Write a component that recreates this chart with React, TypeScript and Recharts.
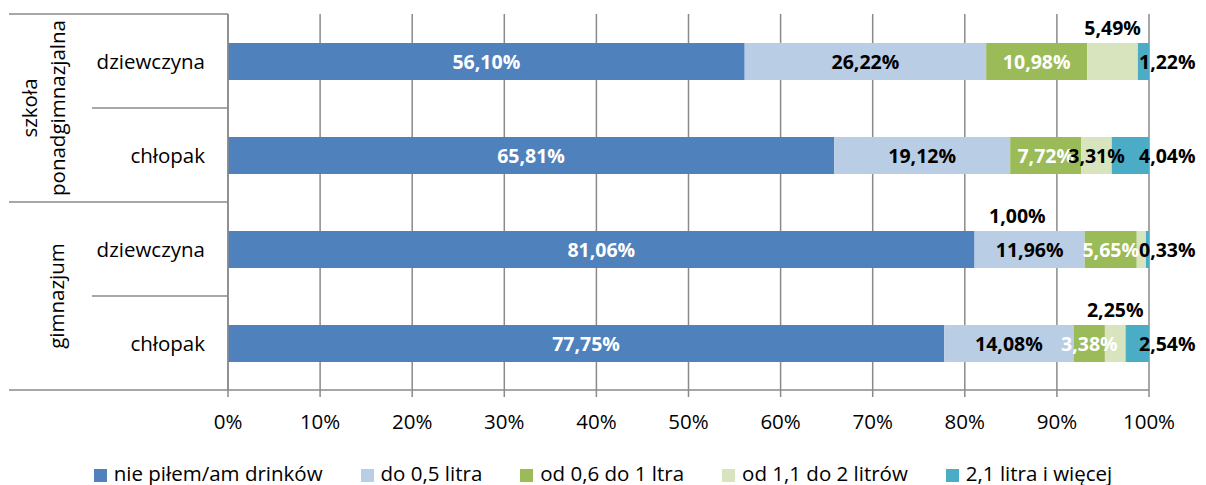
import React from "react"
import { Bar, BarChart, CartesianGrid, LabelList, Legend, XAxis, YAxis } from "recharts"

// grupy (szkoła) i kategorie (płeć) – od góry
const groups = [["szkoła", "ponadgimnazjalna"], ["gimnazjum"]]
const categories = ["dziewczyna", "chłopak", "dziewczyna", "chłopak"]

// procenty odpowiedzi w każdym wierszu
const niePilem = [56.10, 65.81, 81.06, 77.75]
const do05 = [26.22, 19.12, 11.96, 14.08]
const od06do1 = [10.98, 7.72, 5.65, 3.38]
const od11do2 = [5.49, 3.31, 1.00, 2.25]
const ponad21 = [1.22, 4.04, 0.33, 2.54]

const seriesNames = ["nie piłem/am drinków", "do 0,5 litra", "od 0,6 do 1 ltra", "od 1,1 do 2 litrów", "2,1 litra i więcej"]
const xTicks = [0, 10, 20, 30, 40, 50, 60, 70, 80, 90, 100]

const series = [niePilem, do05, od06do1, od11do2, ponad21]
const colors = ["#4F81BD", "#B9CDE5", "#9BBB59", "#D7E4BD", "#4BACC6"]
const data = categories.map((name, i) => {
    const row: any = { name }
    series.forEach((s, k) => { row["s" + k] = s[i] })
    return row
})

const FONT = "'Open Sans', sans-serif"
const GRID = "#8a8a8a"
const W = 1206
const H = 485
const TOP = 14
const PLOT_BOTTOM = 390
const Y_W = 228
const BAND = (PLOT_BOTTOM - TOP) / categories.length

const fmt = (v: number) => v.toFixed(2).replace(".", ",") + "%"

const CategoryTick = (props: any) => {
    const { y, index, payload } = props
    const half = BAND / 2
    const groupStart = index % 2 === 0
    const top = y - half
    const g = groups[Math.floor(index / 2)]
    return (
        <g>
            <line x1={groupStart ? 9 : 92} x2={Y_W} y1={top} y2={top} stroke={GRID} strokeWidth={1.5} />
            {index === categories.length - 1 && (
                <line x1={9} x2={Y_W} y1={y + half} y2={y + half} stroke={GRID} strokeWidth={1.5} />
            )}
            <text x={205} y={y} textAnchor="end" dominantBaseline="central" fontFamily={FONT} fontSize={20.5} fill="#000">
                {payload.value}
            </text>
            {groupStart && g.map((line, k) => {
                const cx = g.length === 1 ? 56 : 29 + k * 28
                const cy = y + half
                return (
                    <text key={k} x={cx} y={cy} transform={`rotate(-90, ${cx}, ${cy})`} textAnchor="middle"
                        dominantBaseline="central" fontFamily={FONT} fontSize={20.5} fill="#000">
                        {line}
                    </text>
                )
            })}
        </g>
    )
}

const labelStyle = { fontFamily: FONT, fontSize: 19.5, fontWeight: 700 }

const centerLabel = (color: string) => (p: any) => (
    <text x={p.x + p.width / 2} y={p.y + p.height / 2} textAnchor="middle" dominantBaseline="central" fill={color} {...labelStyle}>
        {fmt(p.value)}
    </text>
)

// wiersze, w których etykieta 4. serii stoi nad słupkiem, i przesunięcie w poziomie
const aboveRows = [0, 2, 3]
const aboveShift = [0, 0, -124, 0]

const fourthLabel = (p: any) => {
    const above = aboveRows.includes(p.index)
    const x = p.x + p.width / 2 + (above ? aboveShift[p.index] : 0)
    const y = above ? p.y - 16 : p.y + p.height / 2
    return (
        <text x={x} y={y} textAnchor="middle" dominantBaseline="central" fill="#000" {...labelStyle}>
            {fmt(p.value)}
        </text>
    )
}

const fifthLabel = (p: any) => (
    <text x={p.x + p.width - 10} y={p.y + p.height / 2} textAnchor="start" dominantBaseline="central" fill="#000" {...labelStyle}>
        {fmt(p.value)}
    </text>
)

const labelRenderers = [centerLabel("#fff"), centerLabel("#000"), centerLabel("#fff"), fourthLabel, fifthLabel]

const LegendContent = () => (
    <div style={{ display: "flex", justifyContent: "center", alignItems: "center", height: 30, gap: 38, fontFamily: FONT, fontSize: 20.5, color: "#000" }}>
        {seriesNames.map((n, i) => (
            <div key={n} style={{ display: "flex", alignItems: "center", whiteSpace: "nowrap" }}>
                <span style={{ display: "inline-block", width: 13, height: 13, background: colors[i], marginRight: 7, marginTop: 4 }} />
                {n}
            </div>
        ))}
    </div>
)

const App = () => {
    return (
        <div style={{ position: "absolute", left: 0, top: 0, background: "#fff" }}>
            <BarChart
                width={W}
                height={H}
                data={data}
                layout="vertical"
                barSize={37}
                margin={{ top: TOP, right: W - 1149, left: 0, bottom: 20 }}
            >
                <CartesianGrid horizontal={false} stroke={GRID} strokeWidth={1.5} />
                <XAxis
                    type="number"
                    domain={[0, 100]}
                    ticks={xTicks}
                    tickFormatter={(v) => v + "%"}
                    height={45}
                    tickSize={7}
                    tickMargin={17}
                    axisLine={{ stroke: GRID, strokeWidth: 1.5 }}
                    tickLine={{ stroke: GRID, strokeWidth: 1.5 }}
                    tick={{ fill: "#000", fontSize: 20.5, fontFamily: FONT }}
                    allowDataOverflow
                />
                <YAxis
                    type="category"
                    dataKey="name"
                    width={Y_W}
                    tickLine={false}
                    axisLine={{ stroke: GRID, strokeWidth: 1.5 }}
                    tick={<CategoryTick />}
                    interval={0}
                />
                {series.map((_, k) => (
                    <Bar key={k} dataKey={"s" + k} name={seriesNames[k]} stackId="a" fill={colors[k]} isAnimationActive={false}>
                        <LabelList dataKey={"s" + k} content={labelRenderers[k]} />
                    </Bar>
                ))}
                <Legend content={<LegendContent />} wrapperStyle={{ position: "absolute", left: 0, top: 458, width: W, height: 30 }} />
            </BarChart>
        </div>
    )
}

export default App
